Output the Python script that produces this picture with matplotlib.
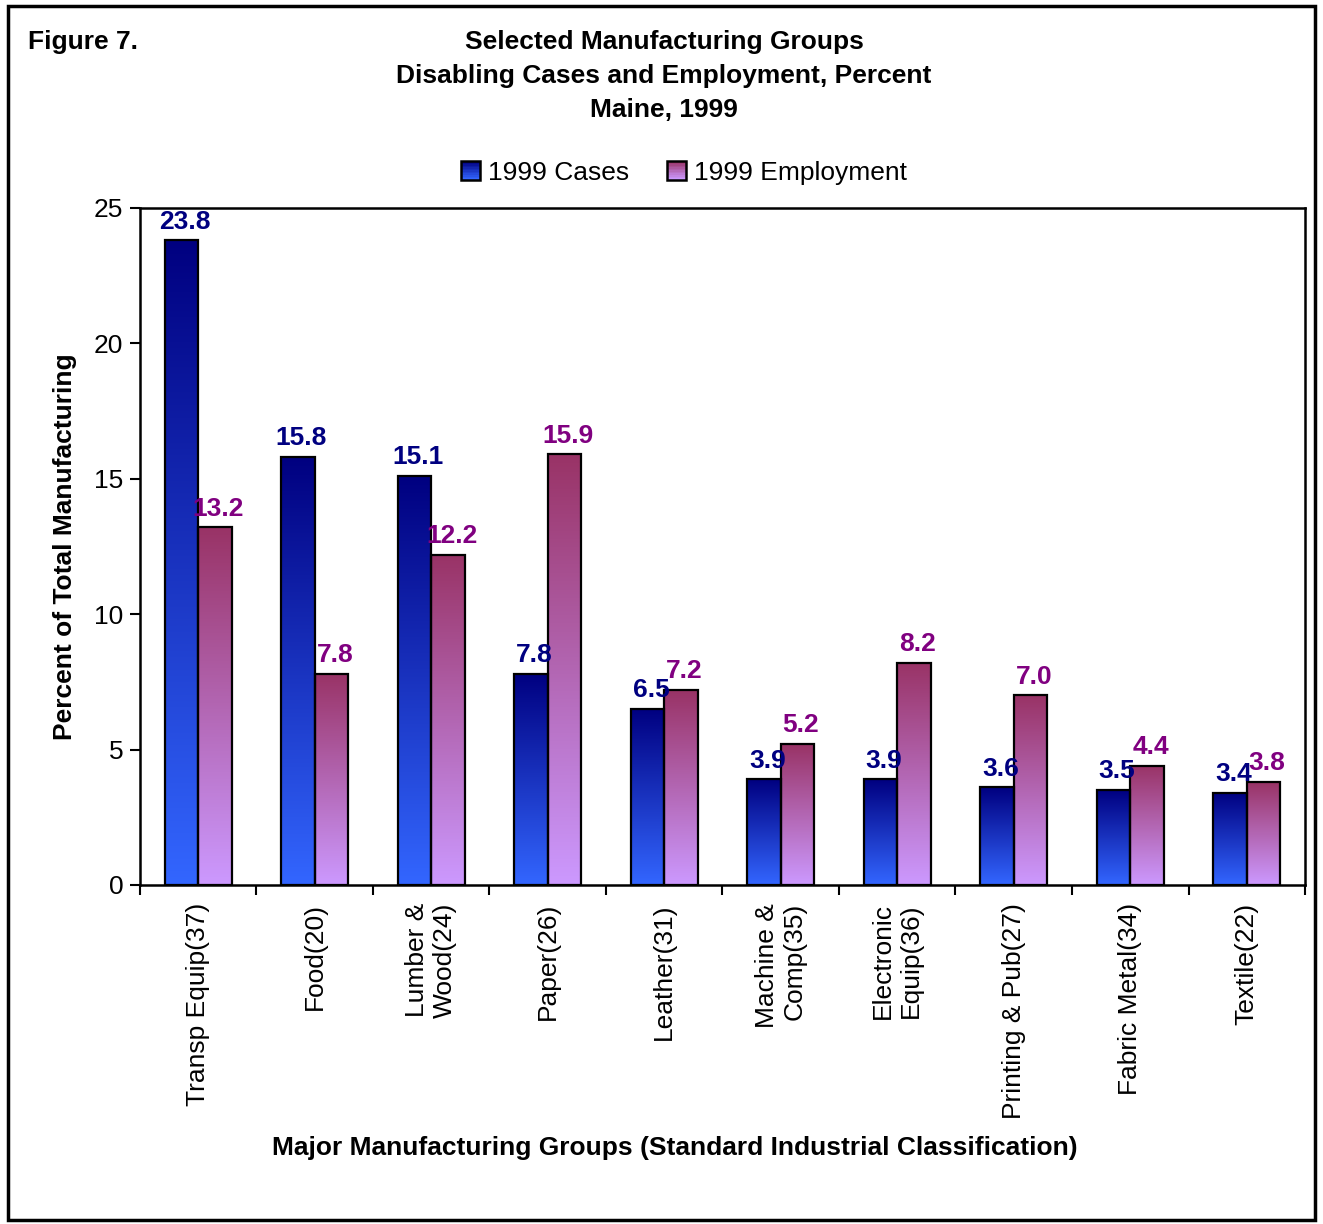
import matplotlib
matplotlib.use("Agg")
import matplotlib.pyplot as plt
import numpy as np
from matplotlib.colors import LinearSegmentedColormap
from matplotlib.patches import Rectangle
from matplotlib.legend_handler import HandlerBase

plt.rcParams["font.family"] = ["Liberation Sans", "DejaVu Sans"]

categories = ["Transp Equip(37)", "Food(20)", "Lumber &\nWood(24)", "Paper(26)",
              "Leather(31)", "Machine &\nComp(35)", "Electronic\nEquip(36)",
              "Printing & Pub(27)", "Fabric Metal(34)", "Textile(22)"]
cases = [23.8, 15.8, 15.1, 7.8, 6.5, 3.9, 3.9, 3.6, 3.5, 3.4]
employment = [13.2, 7.8, 12.2, 15.9, 7.2, 5.2, 8.2, 7.0, 4.4, 3.8]
series_names = ["1999 Cases", "1999 Employment"]

# gradient colours: (bottom, top)
cases_cmap = LinearSegmentedColormap.from_list("cases", ["#3366FF", "#000080"])
emp_cmap = LinearSegmentedColormap.from_list("emp", ["#CC99FF", "#993366"])
grad = np.linspace(0, 1, 256).reshape(-1, 1)

FS = 19

fig = plt.figure(figsize=(13.23, 12.24), dpi=100)
ax = fig.add_axes([0.1058, 0.2770, 0.8806, 0.5531])

x = np.arange(len(categories))
w = 0.288


def gradient_bars(xs, vals, cmap, label_color):
    bars = ax.bar(xs, vals, w, facecolor="none", edgecolor="black", linewidth=1.6, zorder=3)
    for b, v in zip(bars, vals):
        x0, x1 = b.get_x(), b.get_x() + b.get_width()
        ax.imshow(grad, extent=[x0, x1, 0, v], origin="lower", cmap=cmap,
                  aspect="auto", zorder=2, interpolation="bilinear")
        ax.text(b.get_x() + b.get_width() / 2 + 0.03, v + 0.25, f"{v:.1f}", ha="center",
                va="bottom", fontsize=FS, fontweight="bold", color=label_color, zorder=4)


gradient_bars(x - w / 2, cases, cases_cmap, "#000080")
gradient_bars(x + w / 2, employment, emp_cmap, "#800080")

ax.set_xlim(-0.5, len(categories) - 0.5)
ax.set_ylim(0, 25)
ax.set_yticks([0, 5, 10, 15, 20, 25])
ax.tick_params(axis="y", direction="out", length=7, width=1.5, labelsize=FS, pad=5)
ax.set_xticks(x)
ax.set_xticklabels(categories, rotation=90, fontsize=FS, va="top", ha="center",
                   multialignment="right")
ax.set_xticks(np.arange(-0.5, len(categories)), minor=True)
ax.tick_params(axis="x", which="major", length=0, pad=13)
ax.tick_params(axis="x", which="minor", direction="out", length=7, width=1.5)
for s in ax.spines.values():
    s.set_linewidth(1.8)

ax.set_ylabel("Percent of Total Manufacturing", fontsize=FS, fontweight="bold", labelpad=12)
fig.text(0.510, 0.0625, "Major Manufacturing Groups (Standard Industrial Classification)",
         ha="center", va="center", fontsize=FS, fontweight="bold")

fig.text(0.021, 0.966, "Figure 7.", ha="left", va="center", fontsize=FS, fontweight="bold")
fig.text(0.502, 0.966, "Selected Manufacturing Groups", ha="center", va="center",
         fontsize=FS, fontweight="bold")
fig.text(0.502, 0.938, "Disabling Cases and Employment, Percent", ha="center", va="center",
         fontsize=FS, fontweight="bold")
fig.text(0.502, 0.910, "Maine, 1999", ha="center", va="center", fontsize=FS, fontweight="bold")


class GradHandler(HandlerBase):
    def __init__(self, cmap):
        super().__init__()
        self.cmap = cmap

    def create_artists(self, legend, orig, xd, yd, width, height, fontsize, trans):
        n = 12
        s = height * 0.95
        x0 = (width - s) / 2 - xd
        y0 = -yd + (height - s) / 2
        arts = []
        for i in range(n):
            arts.append(Rectangle((x0, y0 + s * i / n), s, s / n + 0.3,
                                  facecolor=self.cmap(i / (n - 1)), edgecolor="none",
                                  transform=trans))
        arts.append(Rectangle((x0, y0), s, s, facecolor="none", edgecolor="black",
                              linewidth=1.8, transform=trans))
        return arts


h1 = Rectangle((0, 0), 1, 1)
h2 = Rectangle((0, 0), 1, 1)
fig.legend([h1, h2], series_names, loc="center", bbox_to_anchor=(0.517, 0.859), ncol=2,
           frameon=False, fontsize=FS, handlelength=0.75, handleheight=0.75,
           handletextpad=0.3, columnspacing=1.4,
           handler_map={h1: GradHandler(cases_cmap), h2: GradHandler(emp_cmap)})

fig.add_artist(Rectangle((0.006, 0.003), 0.988, 0.992, transform=fig.transFigure,
                         facecolor="none", edgecolor="black", linewidth=2.5))

fig.savefig("out.png", dpi=100)
